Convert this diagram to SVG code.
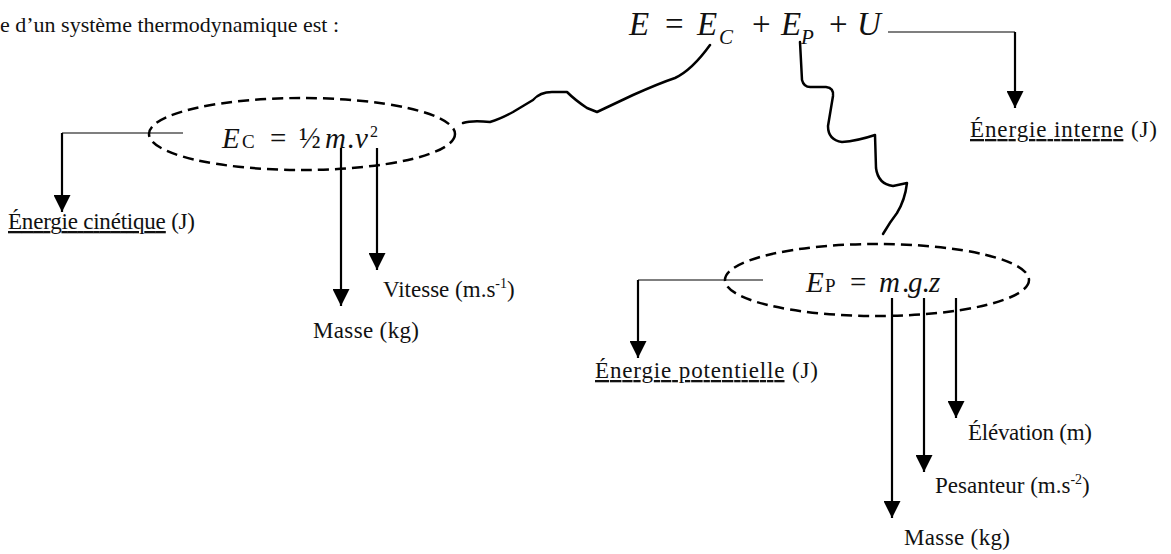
<svg xmlns="http://www.w3.org/2000/svg" width="1171" height="554" viewBox="0 0 1171 554">
<style>
.t{font-family:"Liberation Serif","Times New Roman",serif;fill:#111}
.lbl{font-size:23px}
.top{font-size:22px}
.eq{font-size:33px}
.f{font-size:29px}
.it{font-style:italic}
.u{text-decoration:underline}
.dash{fill:none;stroke:#000;stroke-width:2.5;stroke-dasharray:11 6}
.thin{fill:none;stroke:#000;stroke-width:1.2}
.thick{fill:none;stroke:#000;stroke-width:2.2}
.wave{fill:none;stroke:#000;stroke-width:2.5;stroke-linejoin:round;stroke-linecap:round}
</style>
<defs>
<marker id="ah" markerUnits="userSpaceOnUse" markerWidth="17" markerHeight="17" refX="16" refY="8" orient="auto" viewBox="0 0 16 16">
<path d="M0,0 L16,8 L0,16 z" fill="#000"/>
</marker>
</defs>
<rect width="1171" height="554" fill="#fff"/>

<g id="title"><text class="t top" x="0" y="32">e d’un système thermodynamique est :</text></g>

<g id="formula">
<text class="t eq" y="35"><tspan x="629" class="it">E</tspan><tspan x="665">=</tspan><tspan x="697" class="it">E</tspan><tspan x="719" y="44" class="it" font-size="21">C</tspan><tspan x="752" y="35">+</tspan><tspan x="781" class="it">E</tspan><tspan x="801" y="44" class="it" font-size="21">P</tspan><tspan x="829" y="35">+</tspan><tspan x="857" class="it">U</tspan></text>
</g>

<g id="node-ec">
<ellipse class="dash" cx="302" cy="134" rx="153" ry="36"/>
<text class="t f" y="148"><tspan x="222" class="it">E</tspan><tspan x="242" font-size="19">C</tspan><tspan x="270">=</tspan><tspan x="299">½</tspan><tspan x="325" class="it">m</tspan><tspan x="347">.</tspan><tspan x="355" class="it">v</tspan><tspan x="370" font-size="16" y="137">2</tspan></text>
</g>

<g id="node-ep">
<ellipse class="dash" cx="877" cy="280" rx="152" ry="36"/>
<text class="t f" y="292"><tspan x="806" class="it">E</tspan><tspan x="825" font-size="19">P</tspan><tspan x="850">=</tspan><tspan x="879" class="it">m</tspan><tspan x="902">.</tspan><tspan x="908" class="it">g</tspan><tspan x="922">.</tspan><tspan x="929" class="it">z</tspan></text>
</g>

<g id="label-ec"><text class="t lbl" x="8" y="229" textLength="187" lengthAdjust="spacing"><tspan class="u">Énergie cinétique</tspan> (J)</text></g>
<g id="label-vitesse"><text class="t lbl" x="383" y="297">Vitesse (m.s<tspan font-size="14" dy="-9">-1</tspan><tspan dy="9">)</tspan></text></g>
<g id="label-masse1"><text class="t lbl" x="313" y="338" textLength="106" lengthAdjust="spacing">Masse (kg)</text></g>
<g id="label-u"><text class="t lbl" x="970" y="137" textLength="187" lengthAdjust="spacing"><tspan class="u">Énergie interne</tspan> (J)</text></g>
<g id="label-ep"><text class="t lbl" x="595" y="378" textLength="223" lengthAdjust="spacing"><tspan class="u">Énergie potentielle</tspan> (J)</text></g>
<g id="label-elevation"><text class="t lbl" x="968" y="440" textLength="124" lengthAdjust="spacing">Élévation (m)</text></g>
<g id="label-pesanteur"><text class="t lbl" x="935" y="493">Pesanteur (m.s<tspan font-size="14" dy="-9">-2</tspan><tspan dy="9">)</tspan></text></g>
<g id="label-masse2"><text class="t lbl" x="904" y="545" textLength="106" lengthAdjust="spacing">Masse (kg)</text></g>

<g id="connectors">
<path class="wave" d="M463,123 Q472,120 490,122 Q500,119 513,112 L533,100 Q540,92 552,92 L567,92 Q575,100 587,108 L597,112 L633,95 Q660,83 675,78 Q692,70 710,45"/>
<path class="wave" d="M800,42 L802,80 Q804,88 812,87 L826,87 Q834,88 833,96 L828,126 Q828,140 842,142 Q857,141 875,135 L876,168 Q878,184 893,186 L907,183 Q905,200 897,213 Q890,222 883,234"/>
<polyline class="thin" points="888,32 1015,32"/>
<line class="thick" x1="1015" y1="32" x2="1015" y2="108" marker-end="url(#ah)"/>
<polyline class="thin" points="183,133 62,133"/>
<line class="thick" x1="62" y1="133" x2="62" y2="212" marker-end="url(#ah)"/>
<line class="thick" x1="341" y1="148" x2="341" y2="306" marker-end="url(#ah)"/>
<line class="thick" x1="377" y1="148" x2="377" y2="270" marker-end="url(#ah)"/>
<polyline class="thin" points="763,280 638,280"/>
<line class="thick" x1="638" y1="280" x2="638" y2="358" marker-end="url(#ah)"/>
<line class="thick" x1="892" y1="298" x2="892" y2="518" marker-end="url(#ah)"/>
<line class="thick" x1="924" y1="298" x2="924" y2="472" marker-end="url(#ah)"/>
<line class="thick" x1="956" y1="298" x2="956" y2="418" marker-end="url(#ah)"/>
</g>
</svg>
